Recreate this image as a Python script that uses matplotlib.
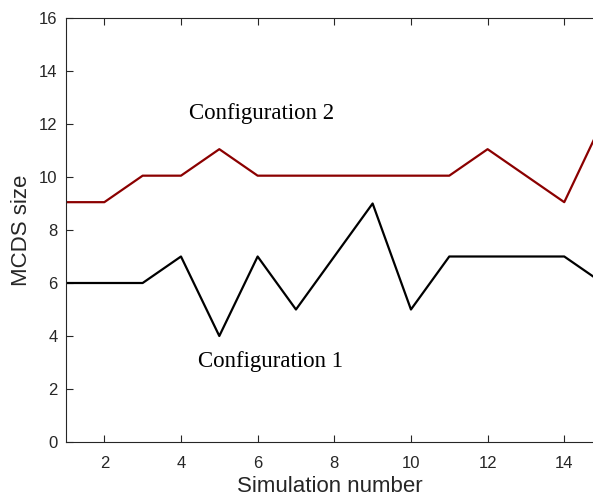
import matplotlib
matplotlib.use('Agg')
import matplotlib.pyplot as plt

# simulation index and MCDS sizes
sim = [1, 2, 3, 4, 5, 6, 7, 8, 9, 10, 11, 12, 13, 14, 15]
config1 = [6, 6, 6, 7, 4, 7, 5, 7, 9, 5, 7, 7, 7, 7, 6]
config2 = [9.05, 9.05, 10.05, 10.05, 11.05, 10.05, 10.05, 10.05, 10.05,
           10.05, 10.05, 11.05, 10.05, 9.05, 12.1]

ink = '#262626'
plt.rcParams['font.family'] = ['Liberation Sans', 'DejaVu Sans']

fig = plt.figure(figsize=(5.93, 4.98), dpi=100)
ax = fig.add_axes([66 / 593, 56 / 498, 1 - 66 / 593, (442 - 18) / 498])

ax.plot(sim, config1, color='black', lw=1.6)
ax.plot(sim, config2, color='#8b0000', lw=1.6)

ax.set_xlim(1, 14.75)
ax.set_ylim(0, 16)
ax.set_xticks(range(2, 15, 2))
ax.set_yticks(range(0, 17, 2))
ax.set_xlabel('Simulation number', fontsize=16, color=ink, labelpad=4)
ax.set_ylabel('MCDS size', fontsize=16, color=ink, labelpad=5)
ax.tick_params(direction='in', length=5, width=0.8, colors=ink, labelsize=12,
               top=True)
ax.tick_params(axis='x', pad=10)
ax.tick_params(axis='y', pad=6)
for s in ax.spines.values():
    s.set_color(ink)
    s.set_linewidth(0.8)
ax.spines['right'].set_visible(False)

fig.text(262 / 593, 1 - 114 / 498, 'Configuration 2', fontsize=16.5,
         family='Liberation Serif', ha='center', va='center')
fig.text(270 / 593, 1 - 361 / 498, 'Configuration 1', fontsize=16.5,
         family='Liberation Serif', ha='center', va='center')

fig.savefig('out.png', dpi=100)
